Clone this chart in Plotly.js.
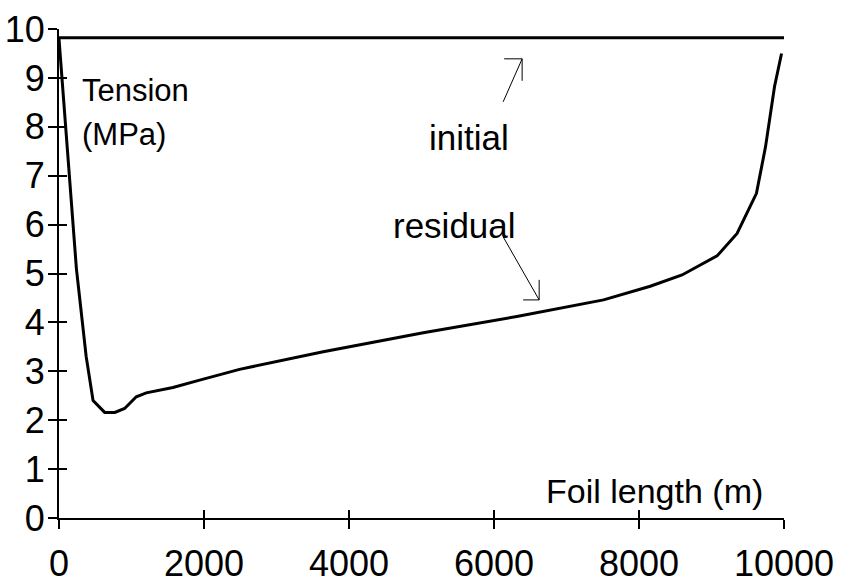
<!DOCTYPE html>
<html>
<head>
<meta charset="utf-8">
<script src="https://cdn.plot.ly/plotly-3.0.1.min.js"></script>
<style>html,body{margin:0;padding:0;background:#fff;}#chart{width:852px;height:583px;}</style>
</head>
<body>
<div id="chart"></div>
<script>
// Foil length (m) and tension (MPa)
const residualX = [0, 170, 240, 375, 470, 630, 770, 905, 1066, 1204, 1572, 1940, 2490, 3644, 5025, 6315, 7511, 8155, 8594, 9077, 9353, 9620, 9745, 9869, 9966];
const residualY = [9.8, 6.5, 5.1, 3.3, 2.4, 2.16, 2.16, 2.24, 2.48, 2.56, 2.67, 2.82, 3.04, 3.40, 3.79, 4.12, 4.46, 4.74, 4.97, 5.36, 5.82, 6.64, 7.59, 8.82, 9.50];
const initialX = [0, 10000];
const initialY = [9.82, 9.82];
const xTicks = [0, 2000, 4000, 6000, 8000, 10000];
const yTicks = [0, 1, 2, 3, 4, 5, 6, 7, 8, 9, 10];

const FONT = 'Liberation Sans, Arial, sans-serif';
const black = '#000';

const traces = [
  {x: initialX, y: initialY, mode: 'lines', line: {color: black, width: 3}, hoverinfo: 'skip', showlegend: false},
  {x: residualX, y: residualY, mode: 'lines', line: {color: black, width: 3}, hoverinfo: 'skip', showlegend: false},
  {x: [0], y: [0], xaxis: 'x2', yaxis: 'y2', mode: 'markers', marker: {opacity: 0}, hoverinfo: 'skip', showlegend: false}
];

const axBase = {showgrid: false, zeroline: false, tickcolor: black, tickwidth: 2, color: black};

const layout = {
  width: 852, height: 583,
  margin: {l: 59, r: 68, t: 29, b: 65},
  paper_bgcolor: '#fff', plot_bgcolor: '#fff',
  font: {family: FONT, color: black, size: 33},
  xaxis: Object.assign({}, axBase, {range: [0, 10000], tickvals: xTicks, ticktext: xTicks.map(String),
    showline: true, linewidth: 2, linecolor: black, ticks: 'outside', ticklen: 9, ticklabelstandoff: 4,
    tickfont: {family: FONT, size: 36, color: black}}),
  yaxis: Object.assign({}, axBase, {range: [0, 10], tickvals: yTicks, ticktext: yTicks.map(String),
    showline: true, linewidth: 2, linecolor: black, ticks: 'outside', ticklen: 9, ticklabelstandoff: -4,
    tickfont: {family: FONT, size: 36, color: black}}),
  xaxis2: Object.assign({}, axBase, {overlaying: 'x', anchor: 'y2', range: [0, 10000], tickvals: xTicks,
    showticklabels: false, showline: false, ticks: 'inside', ticklen: 8, side: 'bottom'}),
  yaxis2: Object.assign({}, axBase, {overlaying: 'y', anchor: 'x2', range: [0, 10], tickvals: yTicks,
    showticklabels: false, showline: false, ticks: 'inside', ticklen: 8, side: 'left'}),
  annotations: [
    {text: 'Tension', x: 290, y: 8.75, xref: 'x', yref: 'y', xanchor: 'left', yanchor: 'middle', showarrow: false, font: {size: 31}},
    {text: '(MPa)', x: 283, y: 7.85, xref: 'x', yref: 'y', xanchor: 'left', yanchor: 'middle', showarrow: false, font: {size: 31}},
    {text: 'initial', x: 5080, y: 7.78, xref: 'x', yref: 'y', xanchor: 'left', yanchor: 'middle', showarrow: false, font: {size: 35}},
    {text: 'residual', x: 4580, y: 5.98, xref: 'x', yref: 'y', xanchor: 'left', yanchor: 'middle', showarrow: false, font: {size: 35}},
    {text: 'Foil length (m)', x: 9740, y: 0.55, xref: 'x', yref: 'y', xanchor: 'right', yanchor: 'middle', showarrow: false, font: {size: 34}}
  ],
  shapes: [
    // initial arrow
    {type: 'line', xref: 'x', yref: 'y', x0: 6126, y0: 8.51, x1: 6388, y1: 9.39, line: {color: black, width: 1}},
    {type: 'line', xref: 'x', yref: 'y', x0: 6140, y0: 9.39, x1: 6388, y1: 9.39, line: {color: black, width: 1}},
    {type: 'line', xref: 'x', yref: 'y', x0: 6388, y0: 8.94, x1: 6388, y1: 9.39, line: {color: black, width: 1}},
    // residual arrow
    {type: 'line', xref: 'x', yref: 'y', x0: 6126, y0: 5.75, x1: 6623, y1: 4.46, line: {color: black, width: 1}},
    {type: 'line', xref: 'x', yref: 'y', x0: 6623, y0: 4.87, x1: 6623, y1: 4.46, line: {color: black, width: 1}},
    {type: 'line', xref: 'x', yref: 'y', x0: 6402, y0: 4.46, x1: 6623, y1: 4.46, line: {color: black, width: 1}}
  ]
};

Plotly.newPlot('chart', traces, layout, {staticPlot: true, displayModeBar: false});
</script>
</body>
</html>
